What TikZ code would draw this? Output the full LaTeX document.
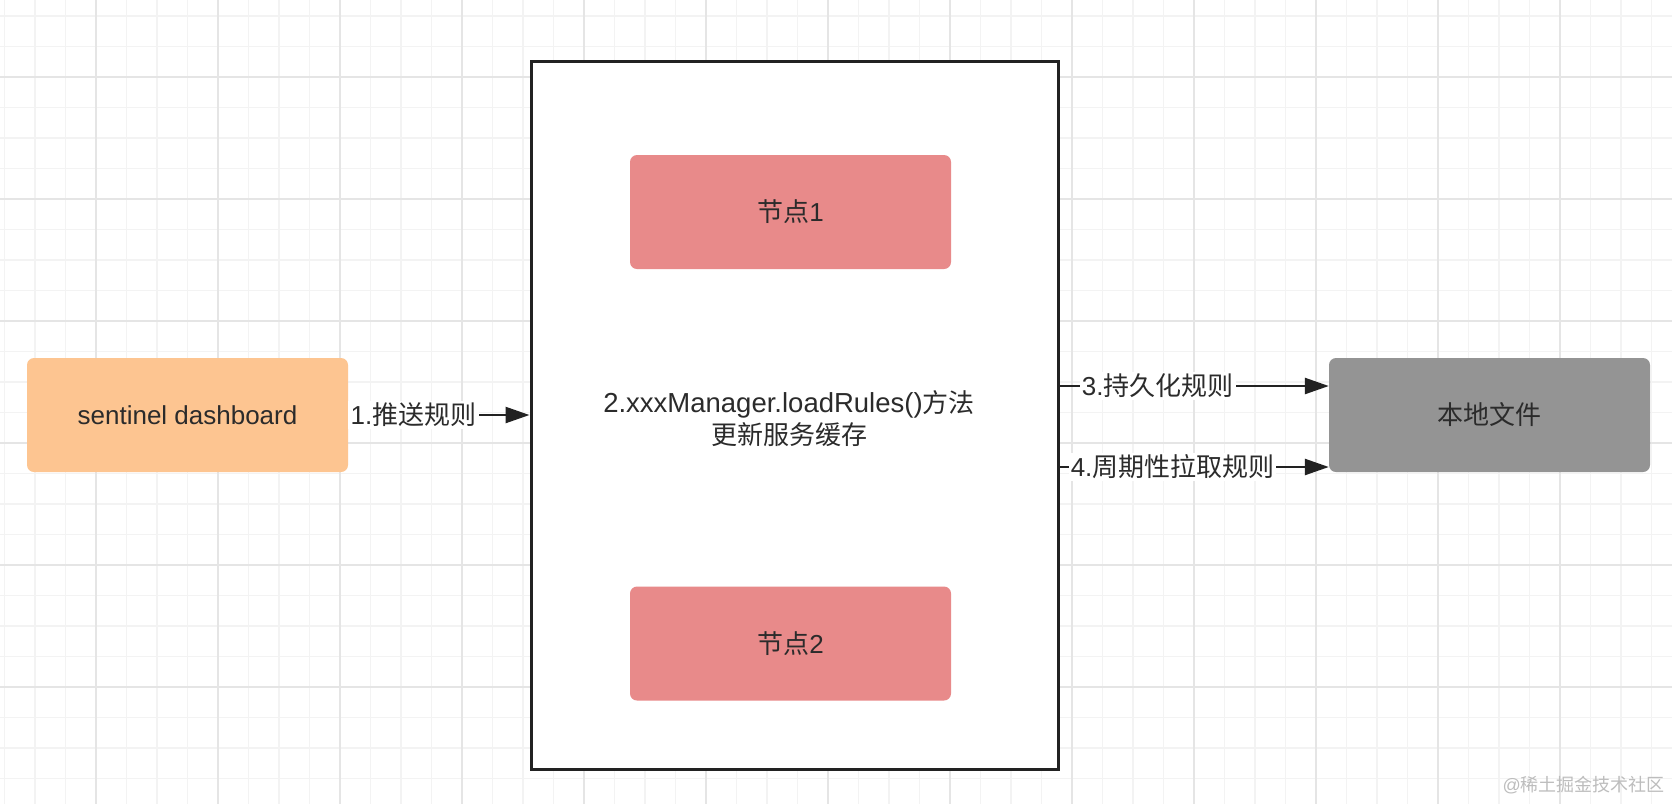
\documentclass[tikz,border=0pt]{standalone}
\usepackage{fontspec}
\setmainfont{Liberation Sans}
\newfontfamily\cjk{Noto Sans CJK SC}
\usetikzlibrary{arrows.meta}
\definecolor{gridminor}{HTML}{F3F3F3}
\definecolor{gridmajor}{HTML}{E5E5E5}
\definecolor{textc}{HTML}{2B2B2B}
\definecolor{linec}{HTML}{222222}
\definecolor{dashfill}{HTML}{FDC591}
\definecolor{nodefill}{HTML}{E88A8A}
\definecolor{filefill}{HTML}{949494}
\definecolor{markc}{HTML}{BDBDBD}
\tikzset{
  minorgrid/.style={draw=gridminor, line width=1.5pt},
  majorgrid/.style={draw=gridmajor, line width=2pt},
  boxbase/.style={rectangle, inner sep=0pt, text=textc, font=\fontsize{26}{32}\selectfont, align=center},
  card/.style={boxbase, rounded corners=7pt, minimum width=321pt, minimum height=114pt},
  dashbox/.style={card, fill=dashfill},
  nodebox/.style={card, fill=nodefill},
  filebox/.style={card, fill=filefill},
  bigbox/.style={boxbase, draw=linec, fill=white, line width=3pt, minimum width=527pt, minimum height=708pt},
  arr/.style={-{Triangle[length=24pt,width=16pt]}, line width=2.5pt, draw=linec},
  lbl/.style={fill=white, inner sep=2pt, text=textc, font=\fontsize{26}{30}\selectfont}
}
\begin{document}
\begin{tikzpicture}[x=1pt,y=-1pt]
\useasboundingbox (0,0) rectangle (1672,804);
\clip (0,0) rectangle (1672,804);
\fill[white] (0,0) rectangle (1672,804);
% grid
\foreach \k in {-3,...,52}{\draw[minorgrid] ({96+30.5*\k},0) -- ++(0,804);}
\foreach \k in {-3,...,24}{\draw[minorgrid] (0,{77+30.5*\k}) -- ++(1672,0);}
\foreach \k in {-1,...,13}{\draw[majorgrid] ({96+122*\k},0) -- ++(0,804);}
\foreach \k in {-1,...,6}{\draw[majorgrid] (0,{77+122*\k}) -- ++(1672,0);}
% main box
\node[bigbox] (box) at (794.5,415) {};
\node[boxbase] (mid) at (789,419) {{\fontsize{27.5}{32}\selectfont 2.xxxManager.loadRules()}{\cjk 方法}\\{\cjk 更新服务缓存}};
\node[nodebox] (n1) at (790.5,212) {{\cjk 节点}1};
\node[nodebox] (n2) at (790.5,643.5) {{\cjk 节点}2};
\node[dashbox] (dash) at (187.5,415) {sentinel dashboard};
\node[filebox] (file) at (1489.5,415) {\cjk 本地文件};
% connectors
\draw[arr] (dash.east) -- node[lbl, inner xsep=2.5pt, pos=0.36] (l1) {1.{\cjk 推送规则}} (box.west);
\draw[arr] ([yshift=29pt]box.east) -- node[lbl, pos=0.365] (l3) {3.{\cjk 持久化规则}} ([yshift=29pt]file.west);
\draw[arr] ([yshift=-52pt]box.east) -- node[lbl, pos=0.42] (l4) {4.{\cjk 周期性拉取规则}} ([yshift=-52pt]file.west);
% watermark
\node[anchor=east, inner sep=0pt, text=markc, font=\fontsize{18}{20}\selectfont] (mark) at (1665,785) {@{\cjk 稀土掘金技术社区}};
\end{tikzpicture}
\end{document}
